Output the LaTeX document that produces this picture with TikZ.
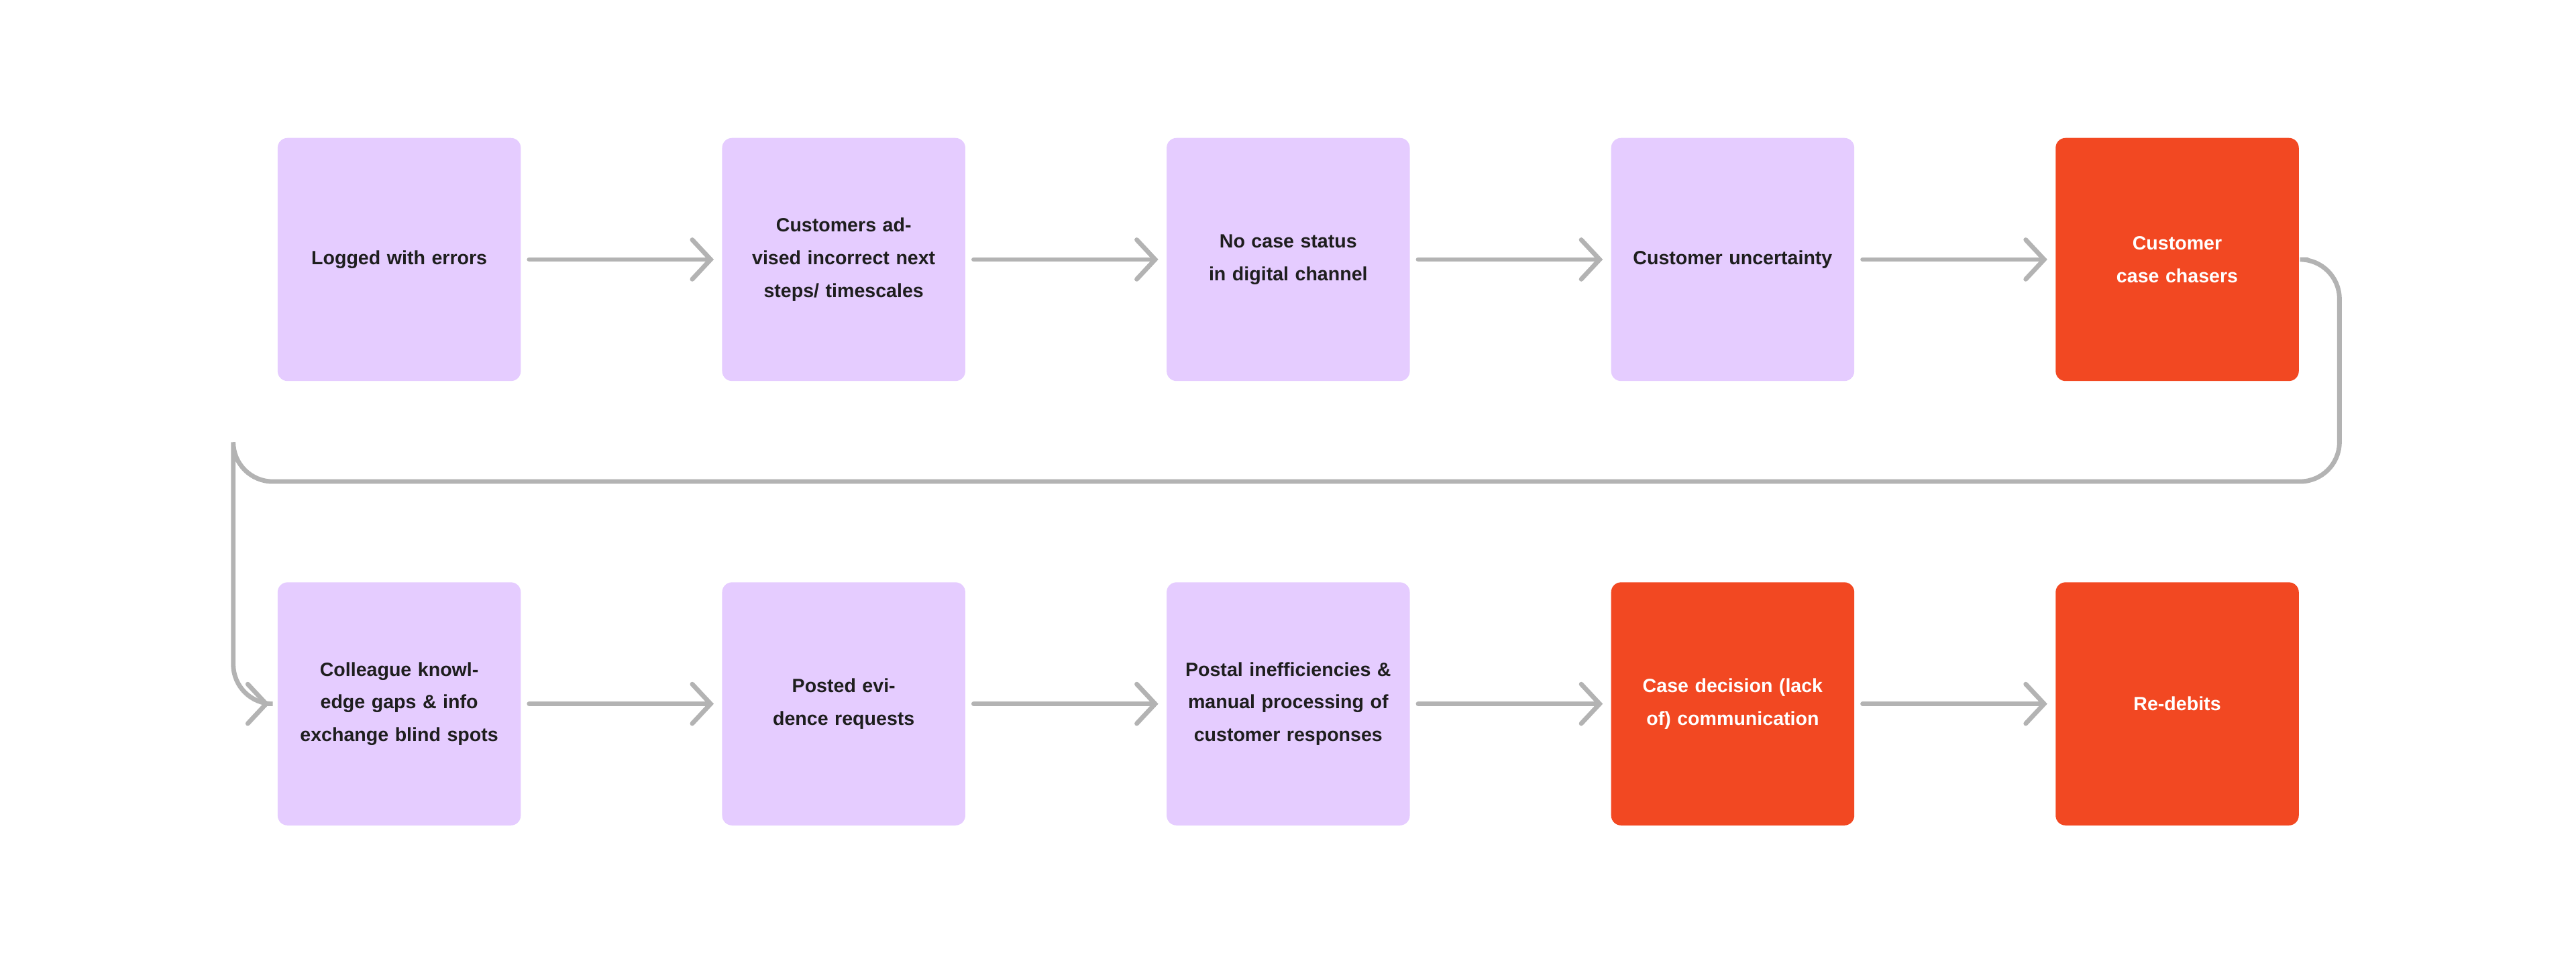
\documentclass[tikz,border=0pt]{standalone}
\usepackage{fontspec}
\setmainfont{Liberation Sans}
\usetikzlibrary{positioning,arrows.meta}
\definecolor{lilac}{HTML}{E5CCFF}
\definecolor{alert}{HTML}{F24822}
\definecolor{flow}{HTML}{B3B3B3}
\definecolor{ink}{HTML}{1E1E1E}

\tikzset{
  stage/.style={rectangle, rounded corners=0.15cm, minimum width=3.7cm, minimum height=3.7cm,
    text width=3.2cm, align=center, font=\fontsize{8.3}{14.2}\selectfont\bfseries},
  calm/.style={stage, fill=lilac, text=ink},
  hot/.style={stage, fill=alert, text=white},
  link/.style={draw=flow, line width=0.07cm, line cap=round,
    -{Straight Barb[length=0.28cm, width=0.6cm, line cap=round]}, shorten <=0.12cm, shorten >=0.12cm}
}

\begin{document}
\begin{tikzpicture}

        \useasboundingbox (0,0) rectangle (39.2,-14.68);

        % Top row
        \node[calm] (log) at (6.075,-3.95) {Logged with errors};
        \node[calm, right=3.05cm of log] (advise) {Customers advised incorrect next steps/ timescales};
        \node[calm, right=3.05cm of advise] (status) {No case status in digital channel};
        \node[calm, right=3.05cm of status] (unsure) {Customer uncertainty};
        \node[hot, right=3.05cm of unsure] (chase) {Customer case chasers};

        % Bottom row
        \node[calm, below=3.05cm of log] (gaps) {Colleague knowledge gaps \& info exchange blind spots};
        \node[calm, right=3.05cm of gaps] (posted) {Posted evidence requests};
        \node[calm, right=3.05cm of posted] (postal) {Postal inefficiencies \& manual processing of customer responses};
        \node[hot, right=3.05cm of postal] (decide) {Case decision (lack of) communication};
        \node[hot, right=3.05cm of decide] (redebit) {Re-debits};

        % Arrows
        \foreach \a/\b in {log/advise, advise/status, status/unsure, unsure/chase,
                           gaps/posted, posted/postal, postal/decide, decide/redebit}
        {
          \draw[link] (\a) -- (\b);
        }

        % Wrap-around
        \coordinate (turn) at (35.6,-7.33);
        \draw[link, rounded corners=0.6cm] (chase.east) -| (turn) -| (3.55,-7.33) |- (gaps.west);

\end{tikzpicture}
\end{document}
